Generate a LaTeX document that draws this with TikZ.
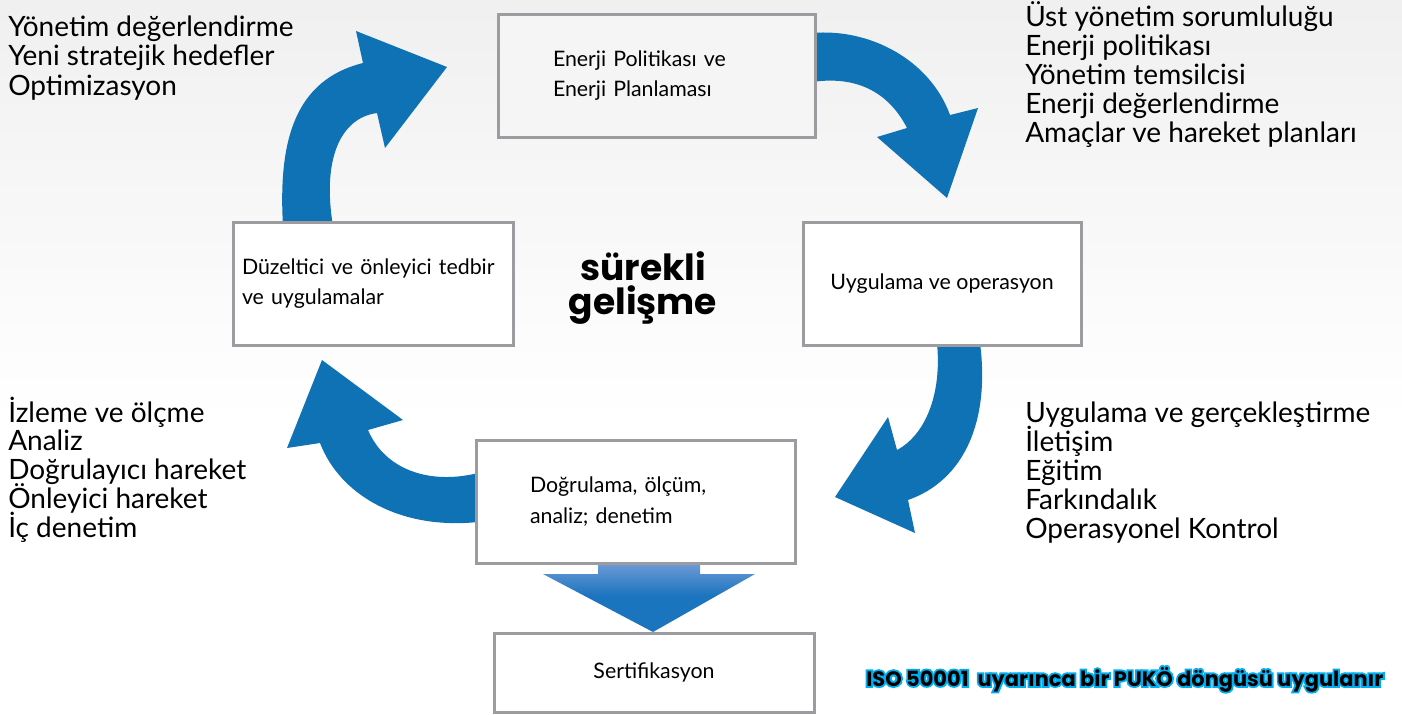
\documentclass[tikz,border=0pt]{standalone}
\usepackage{fontspec}
\setmainfont{Lato}
\newfontfamily\popfont{Poppins}
\newfontfamily\popglow{Poppins}[BoldFeatures={FakeBold=18}]
\definecolor{cycleblue}{RGB}{14,114,181}
\definecolor{boxgray}{RGB}{155,155,160}
\definecolor{isocyan}{RGB}{0,174,239}
\definecolor{downtop}{RGB}{118,158,216}
\definecolor{downbot}{RGB}{26,116,190}
\tikzset{
	stage/.style={draw=boxgray, line width=2.25pt, fill=white, minimum height=92.25pt, inner ysep=0pt, font=\fontsize{16}{23}\selectfont},
	cyclearrow/.style={fill=cycleblue},
	item/.style={anchor=base west, inner sep=0pt, font=\fontsize{21}{22}\selectfont},
	isotext/.style={anchor=base west, inner sep=0pt, font=\popfont\bfseries\fontsize{15.7}{18}\selectfont}
}

\begin{document}
\begin{tikzpicture}[x=0.75pt, y=-0.75pt]
		\useasboundingbox (0,0) rectangle (1402,714);
		\fill[white] (0,0) rectangle (1402,714);
		\shade[top color=black!6, bottom color=white] (0,0) rectangle (1402,420);

		\fill[cyclearrow] (283,226) .. controls (278,140) and (295,80) .. (363,63) -- (356,31) -- (447,67) -- (385,148) -- (377,113) .. controls (340,118) and (322,160) .. (333,226) -- cycle;
		\fill[cyclearrow] (812,33) .. controls (870,28) and (930,60) .. (950,115) -- (978,108) -- (947,198) -- (877,137) -- (907,128) .. controls (890,95) and (860,75) .. (812,82) -- cycle;
		\fill[cyclearrow] (937,343) .. controls (942,395) and (925,435) .. (897,450) -- (888,417) -- (835,497) -- (915,533) -- (908,500) .. controls (965,480) and (990,420) .. (980,343) -- cycle;
		\fill[cyclearrow] (478,522) .. controls (400,530) and (340,495) .. (320,443) -- (287,448) -- (322,360) -- (403,420) -- (368,430) .. controls (385,470) and (430,485) .. (478,473) -- cycle;
		\shade[top color=downtop, bottom color=downbot, middle color=downbot] (598,560) -- (700,560) -- (700,574) -- (755,574) -- (653,632) -- (543,574) -- (598,574) -- cycle;

		\node[stage, fill=black!4, minimum width=237.75pt, text width=155.25pt, inner xsep=41.25pt, align=left] (politika) at (656.5,75.5) {Enerji Politikası ve\\Enerji Planlaması};
		\node[stage, minimum width=208.5pt, align=center] (uygulama) at (942,283.5) {Uygulama ve operasyon};
		\node[stage, minimum width=210pt, text width=196.5pt, inner xsep=6.75pt, align=left] (duzeltici) at (373,283.5) {Düzeltici ve önleyici tedbir\\ve uygulamalar};
		\node[stage, minimum width=239.25pt, text width=158.25pt, inner xsep=40.5pt, align=left] (dogrulama) at (635.5,501.5) {Doğrulama, ölçüm,\\analiz; denetim};
		\node[stage, minimum width=240pt, minimum height=59.25pt] (sertifika) at (654,672.5) {Sertifikasyon};

		\node[font=\popfont\bfseries\fontsize{27}{25.5}\selectfont, align=center] (gelisme) at (643,288) {sürekli\\gelişme};

		\foreach \txt [count=\i] in {Yönetim değerlendirme, Yeni stratejik hedefler, Optimizasyon}
			\node[item] (yonetim\i) at (8,{36+29.5*(\i-1)}) {\txt};
		\foreach \txt [count=\i] in {Üst yönetim sorumluluğu, Enerji politikası, Yönetim temsilcisi, Enerji değerlendirme, Amaçlar ve hareket planları}
			\node[item] (sorumluluk\i) at (1025,{26+29*(\i-1)}) {\txt};
		\foreach \txt [count=\i] in {Uygulama ve gerçekleştirme, İletişim, Eğitim, Farkındalık, Operasyonel Kontrol}
			\node[item] (gercek\i) at (1025,{422+29*(\i-1)}) {\txt};
		\foreach \txt [count=\i] in {İzleme ve ölçme, Analiz, Doğrulayıcı hareket, Önleyici hareket, İç denetim}
			\node[item] (izleme\i) at (8,{422+28.8*(\i-1)}) {\txt};

		\node[isotext, font=\popglow\bfseries\fontsize{15.7}{18}\selectfont, text=isocyan] (isoglow) at (866,686) {ISO 50001\ \ uyarınca bir PUKÖ döngüsü uygulanır};
		\node[isotext] (iso) at (isoglow.base west) {ISO 50001\ \ uyarınca bir PUKÖ döngüsü uygulanır};
\end{tikzpicture}
\end{document}
